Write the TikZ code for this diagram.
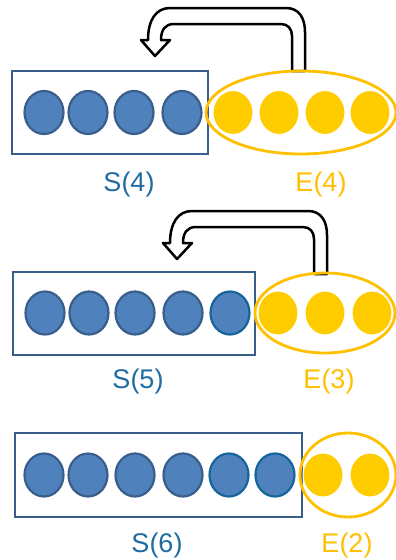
\documentclass[tikz,border=0pt]{standalone}
\usepackage{fontspec}
\setmainfont{Liberation Sans}
\usetikzlibrary{shapes.geometric}
\definecolor{bfill}{HTML}{4F81BD}
\definecolor{bedge}{HTML}{3A5E8C}
\definecolor{bedgeb}{HTML}{15649A}
\definecolor{rectc}{HTML}{3A5E8C}
\definecolor{yfill}{HTML}{FFCC00}
\definecolor{yedge}{HTML}{FFC000}
\definecolor{slab}{HTML}{1E6CA2}
\definecolor{elab}{HTML}{FFC000}
\begin{document}
\begin{tikzpicture}[x=1pt,y=-1pt,
  bdot/.style={ellipse, minimum width=39pt, minimum height=43pt, inner sep=0pt, fill=bfill, draw=bedge, line width=2.2pt},
  bdotb/.style={bdot, draw=bedgeb},
  ydot/.style={ellipse, minimum width=40pt, minimum height=44pt, inner sep=0pt, fill=yfill, draw=white, line width=1pt},
  sbox/.style={rectangle, inner sep=0pt, draw=rectc, line width=2.8pt},
  ering/.style={ellipse, inner sep=0pt, draw=yedge, line width=2.8pt},
  uarrow/.style={draw=black, fill=white, line width=2.5pt, line join=round},
  slabel/.style={anchor=base, text=slab, font=\fontsize{27}{30}\selectfont},
  elabel/.style={anchor=base, text=elab, font=\fontsize{27}{30}\selectfont}]
\useasboundingbox (0,0) rectangle (396,560);

% ---------- panel 1 ----------
\node[sbox, minimum width=196pt, minimum height=83pt] (r1) at (110,112.5) {};
\foreach \x [count=\i] in {44,88,134,182} \node[bdot] (b1\i) at (\x,112.5) {};
\draw[uarrow] (292,71) -- (305,71) -- (305,32) .. controls (305,18) and (299,8) .. (286,8)
  -- (170,8) .. controls (156,8) and (148,20) .. (148,40) -- (141,40) -- (155,56) -- (170,40)
  -- (161,40) .. controls (161,30) and (165,24) .. (174,24) -- (281,24)
  .. controls (288,24) and (292,29) .. (292,36) -- cycle;
\node[ering, minimum width=190pt, minimum height=83pt] (e1) at (301,112.5) {};
\foreach \x [count=\i] in {233,279,325,370} \node[ydot] (y1\i) at (\x,112.5) {};
\node[slabel] (s1) at (129,191) {S(4)};
\node[elabel] (t1) at (321,191) {E(4)};

% ---------- panel 2 ----------
\node[sbox, minimum width=242pt, minimum height=83pt] (r2) at (134,313.5) {};
\foreach \x [count=\i] in {45,89,135,183} \node[bdot] (b2\i) at (\x,313) {};
\node[bdotb] (b25) at (230,313) {};
\begin{scope}[shift={(22,203)}]
\draw[uarrow] (292,71) -- (305,71) -- (305,32) .. controls (305,18) and (299,8) .. (286,8)
  -- (170,8) .. controls (156,8) and (148,20) .. (148,40) -- (141,40) -- (155,56) -- (170,40)
  -- (161,40) .. controls (161,30) and (165,24) .. (174,24) -- (281,24)
  .. controls (288,24) and (292,29) .. (292,36) -- cycle;
\end{scope}
\node[ering, minimum width=140pt, minimum height=80pt] (e2) at (325,313) {};
\foreach \x [count=\i] in {278,325,372} \node[ydot] (y2\i) at (\x,313) {};
\node[slabel] (s2) at (138,388) {S(5)};
\node[elabel] (t2) at (329,388) {E(3)};

% ---------- panel 3 ----------
\node[sbox, minimum width=287pt, minimum height=84pt] (r3) at (158.5,475) {};
\foreach \x [count=\i] in {44,88,135,183} \node[bdot] (b3\i) at (\x,475) {};
\node[bdotb] (b35) at (229,475) {};
\node[bdotb] (b36) at (275,475) {};
\node[ering, minimum width=96pt, minimum height=84pt] (e3) at (348,475) {};
\foreach \x [count=\i] in {323,370} \node[ydot] (y3\i) at (\x,475) {};
\node[slabel] (s3) at (157,552) {S(6)};
\node[elabel] (t3) at (347,552) {E(2)};
\end{tikzpicture}
\end{document}
